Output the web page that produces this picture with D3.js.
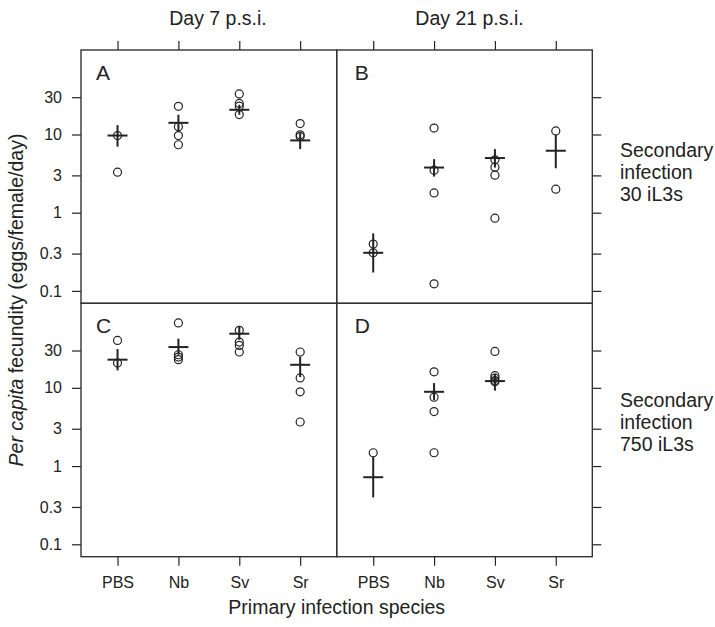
<!DOCTYPE html>
<html>
<head>
<meta charset="utf-8">
<script src="https://cdn.jsdelivr.net/npm/d3@7"></script>
<style>
  html, body { margin: 0; padding: 0; background: #fff; }
  svg { display: block; font-family: "Liberation Sans", Arial, Helvetica, sans-serif; }
</style>
</head>
<body>
<svg id="chart" width="715" height="627"></svg>
<script>
// ---------------- data ----------------
const species = ["PBS", "Nb", "Sv", "Sr"];
const dayLabels = ["Day 7 p.s.i.", "Day 21 p.s.i."];
const doseLines30 = ["Secondary", "infection", "30 iL3s"];
const doseLines750 = ["Secondary", "infection", "750 iL3s"];
const yTicks = [0.1, 0.3, 1, 3, 10, 30];
const yTickLabels = ["0.1", "0.3", "1", "3", "10", "30"];
const panelLetters = ["A", "B", "C", "D"];

// individual observations per species (PBS, Nb, Sv, Sr)
const pointsA = [[9.7, 3.3], [22.9, 12.6, 9.7, 7.4], [33, 25, 23, 18], [13.8, 9.9, 9.4]];
const pointsB = [[0.397, 0.307], [12.1, 3.5, 1.79, 0.123], [4.74, 3.82, 3.02, 0.85], [11.1, 2.0]];
const pointsC = [[40.4, 20.7], [67.5, 26.5, 24.7, 22.9], [54.3, 38.5, 34.8, 28.7], [28.7, 13.4, 8.9, 3.66]];
const pointsD = [[1.48], [16.0, 7.6, 4.97, 1.48], [29.2, 14.3, 13.3, 12.4, 12.0], []];

// means and error bar limits (null = no data)
const meanA = [9.7, 14.1, 20.7, 8.4];
const hiA   = [13.2, 17.9, 24.0, 10.4];
const loA   = [7.0, 11.2, 17.9, 6.5];

const meanB = [0.307, 3.78, 5.0, 6.2];
const hiB   = [0.544, 4.84, 6.5, 9.9];
const loB   = [0.172, 2.9, 3.78, 3.7];

const meanC = [22.9, 33.2, 49.2, 19.7];
const hiC   = [31.3, 42.5, 60.0, 25.2];
const loC   = [16.7, 26.5, 41.2, 13.7];

const meanD = [0.72, 8.9, 12.2, null];
const hiD   = [1.31, 11.5, 15.1, null];
const loD   = [0.397, 7.0, 9.2, null];

// ---------------- layout ----------------
const X0 = 81, XM = 336.7, X1 = 592.3;
const Y0 = 50, YM = 303.3, Y1 = 556.7;
const ink = "#222";
const tickLen = 9;

const svg = d3.select("#chart");

const panels = [
  { letter: panelLetters[0], col: 0, row: 0, pts: pointsA, mean: meanA, hi: hiA, lo: loA },
  { letter: panelLetters[1], col: 1, row: 0, pts: pointsB, mean: meanB, hi: hiB, lo: loB },
  { letter: panelLetters[2], col: 0, row: 1, pts: pointsC, mean: meanC, hi: hiC, lo: loC },
  { letter: panelLetters[3], col: 1, row: 1, pts: pointsD, mean: meanD, hi: hiD, lo: loD }
];

const colX = [[X0, XM], [XM, X1]];
const rowY = [[Y0, YM], [YM, Y1]];

function styleAxis(g) {
  g.select(".domain").remove();
  g.selectAll(".tick line").attr("stroke", ink).attr("stroke-width", 1.2);
  g.selectAll(".tick text").attr("fill", ink).attr("font-size", 16)
    .attr("font-family", "'Liberation Sans', Arial, sans-serif");
}

panels.forEach(p => {
  const [xa, xb] = colX[p.col];
  const [ya, yb] = rowY[p.row];
  const x = d3.scalePoint().domain(species).range([xa, xb]).padding(0.6);
  const y = d3.scaleLog().domain([0.0694, 120.4]).range([yb, ya]);
  const g = svg.append("g");

  // axes
  if (p.col === 0) {
    g.append("g").attr("transform", `translate(${xa},0)`)
      .call(d3.axisLeft(y).tickValues(yTicks).tickSize(tickLen).tickPadding(10)
        .tickFormat((d, i) => yTickLabels[i]))
      .call(styleAxis);
  } else {
    g.append("g").attr("transform", `translate(${xb},0)`)
      .call(d3.axisRight(y).tickValues(yTicks).tickSize(tickLen).tickFormat(""))
      .call(styleAxis);
  }
  if (p.row === 0) {
    g.append("g").attr("transform", `translate(0,${ya})`)
      .call(d3.axisTop(x).tickSize(tickLen).tickFormat(""))
      .call(styleAxis);
  } else {
    g.append("g").attr("transform", `translate(0,${yb})`)
      .call(d3.axisBottom(x).tickSize(tickLen).tickPadding(11))
      .call(styleAxis);
  }

  // border
  g.append("rect").attr("x", xa).attr("y", ya).attr("width", xb - xa).attr("height", yb - ya)
    .attr("fill", "none").attr("stroke", "#333").attr("stroke-width", 1.4);

  // panel letter
  g.append("text").attr("x", xa + (p.col === 0 ? 15 : 18)).attr("y", ya + 30)
    .attr("font-size", 21).attr("fill", ink).text(p.letter);

  // points
  const pts = [];
  p.pts.forEach((arr, i) => arr.forEach(v => pts.push({ s: species[i], v })));
  g.selectAll("circle.pt").data(pts).enter().append("circle")
    .attr("class", "pt")
    .attr("cx", d => x(d.s)).attr("cy", d => y(d.v)).attr("r", 4)
    .attr("fill", "none").attr("stroke", ink).attr("stroke-width", 1.2);

  // mean crosses
  const ms = species.map((s, i) => ({ s, m: p.mean[i], hi: p.hi[i], lo: p.lo[i] }))
    .filter(d => d.m !== null);
  g.selectAll("line.err").data(ms).enter().append("line")
    .attr("x1", d => x(d.s)).attr("x2", d => x(d.s))
    .attr("y1", d => y(d.hi)).attr("y2", d => y(d.lo))
    .attr("stroke", ink).attr("stroke-width", 2);
  g.selectAll("line.mean").data(ms).enter().append("line")
    .attr("x1", d => x(d.s) - 10).attr("x2", d => x(d.s) + 10)
    .attr("y1", d => y(d.m)).attr("y2", d => y(d.m))
    .attr("stroke", ink).attr("stroke-width", 2);
});

// column headers
svg.append("text").attr("x", 218).attr("y", 25).attr("text-anchor", "middle")
  .attr("font-size", 19.5).attr("fill", ink).text(dayLabels[0]);
svg.append("text").attr("x", 469.5).attr("y", 25).attr("text-anchor", "middle")
  .attr("font-size", 19.5).attr("fill", ink).text(dayLabels[1]);

// row labels
function rowLabel(lines, baseY) {
  const t = svg.append("text").attr("x", 620).attr("y", baseY)
    .attr("font-size", 19.5).attr("fill", ink);
  lines.forEach((l, i) => t.append("tspan").attr("x", 620).attr("y", baseY + i * 22).text(l));
}
rowLabel(doseLines30, 156.7);
rowLabel(doseLines750, 406.7);

// x axis title
svg.append("text").attr("x", 336.7).attr("y", 614).attr("text-anchor", "middle")
  .attr("font-size", 19.5).attr("fill", ink).text("Primary infection species");

// y axis title
const yt = svg.append("text").attr("transform", "translate(23,300) rotate(-90)")
  .attr("text-anchor", "middle").attr("font-size", 19.5).attr("fill", ink);
yt.append("tspan").attr("font-style", "italic").text("Per capita");
yt.append("tspan").text(" fecundity (eggs/female/day)");
</script>
</body>
</html>
